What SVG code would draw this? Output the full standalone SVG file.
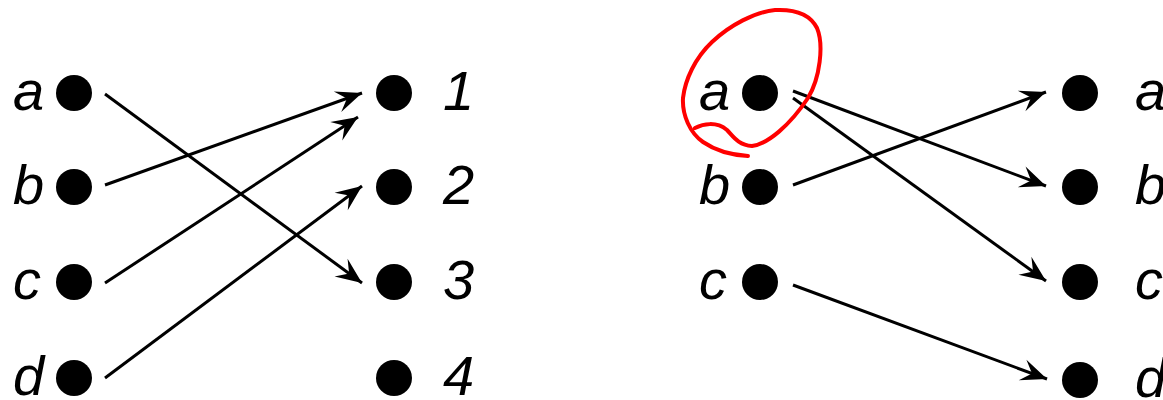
<svg xmlns="http://www.w3.org/2000/svg" width="1163" height="400" viewBox="0 0 1163 400">
<style>
.dot{fill:#000}
.lbl{font-family:"Liberation Sans",Arial,sans-serif;font-style:italic;font-size:56px;fill:#000}
.edge{stroke:#000;stroke-width:3;fill:none;marker-end:url(#arr)}
</style>
<defs>
<marker id="arr" markerUnits="userSpaceOnUse" markerWidth="32" markerHeight="26" viewBox="-28 -13 32 26" refX="0" refY="0" orient="auto">
<path d="M0,0 L-26,-11 L-16,0 L-26,11 Z" fill="#000"/>
</marker>
</defs>
<rect width="1163" height="400" fill="#fff"/>
<g id="L_a"><circle class="dot" cx="74" cy="93" r="18"/><text class="lbl" x="13" y="110">a</text></g>
<g id="L_b"><circle class="dot" cx="74" cy="187" r="18"/><text class="lbl" x="13" y="204">b</text></g>
<g id="L_c"><circle class="dot" cx="74" cy="282" r="18"/><text class="lbl" x="13" y="299">c</text></g>
<g id="L_d"><circle class="dot" cx="74" cy="378" r="18"/><text class="lbl" x="13" y="395">d</text></g>
<g id="L_1"><circle class="dot" cx="394" cy="93" r="18"/><text class="lbl" x="443" y="110">1</text></g>
<g id="L_2"><circle class="dot" cx="394" cy="187" r="18"/><text class="lbl" x="443" y="204">2</text></g>
<g id="L_3"><circle class="dot" cx="394" cy="282" r="18"/><text class="lbl" x="443" y="299">3</text></g>
<g id="L_4"><circle class="dot" cx="394" cy="378" r="18"/><text class="lbl" x="443" y="395">4</text></g>
<g id="R_a"><circle class="dot" cx="760" cy="93" r="18"/><text class="lbl" x="699" y="110">a</text></g>
<g id="R_b"><circle class="dot" cx="760" cy="187" r="18"/><text class="lbl" x="699" y="204">b</text></g>
<g id="R_c"><circle class="dot" cx="760" cy="282" r="18"/><text class="lbl" x="699" y="299">c</text></g>
<g id="R2_a"><circle class="dot" cx="1080" cy="93" r="18"/><text class="lbl" x="1135" y="110">a</text></g>
<g id="R2_b"><circle class="dot" cx="1080" cy="187" r="18"/><text class="lbl" x="1135" y="204">b</text></g>
<g id="R2_c"><circle class="dot" cx="1080" cy="282" r="18"/><text class="lbl" x="1135" y="299">c</text></g>
<g id="R2_d"><circle class="dot" cx="1080" cy="380" r="18"/><text class="lbl" x="1135" y="397">d</text></g>
<g id="connectors">
<line class="edge" x1="105" y1="94" x2="362" y2="283"/>
<line class="edge" x1="105" y1="185" x2="362" y2="93"/>
<line class="edge" x1="105" y1="283" x2="358" y2="117"/>
<line class="edge" x1="105" y1="378" x2="362" y2="186"/>
<line class="edge" x1="793" y1="91" x2="1046" y2="186"/>
<line class="edge" x1="793" y1="98" x2="1046" y2="281"/>
<line class="edge" x1="793" y1="185" x2="1046" y2="92"/>
<line class="edge" x1="793" y1="285" x2="1047" y2="379"/>
</g>
<path id="red_mark" d="M695,128 C703,124 716,121 727,130 C733,136 738,145 752,146 C768,144 790,125 808,98 C820,78 824,45 817,28 C810,14 795,9 775,10 C755,12 730,25 712,42 C695,58 685,80 683,98 C682,115 690,133 703,142 C716,151 732,155 748,156" fill="none" stroke="#f00" stroke-width="4" stroke-linecap="round" stroke-linejoin="round"/>
</svg>
